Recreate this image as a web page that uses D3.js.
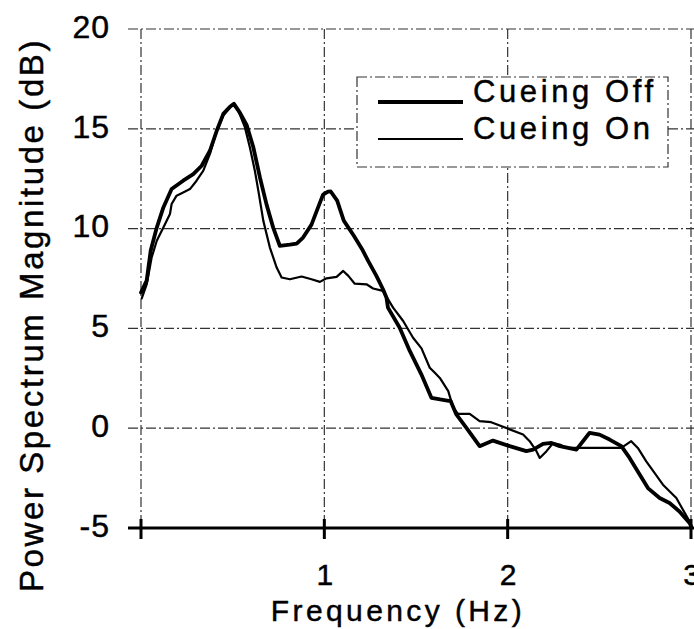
<!DOCTYPE html>
<html>
<head>
<meta charset="utf-8">
<script src="https://cdn.jsdelivr.net/npm/d3@7"></script>
<style>
body { margin: 0; background: #fff; }
text { font-family: "Liberation Sans", Arial, sans-serif; fill: #000; stroke: #000; stroke-width: 0.45px; }
</style>
</head>
<body>
<script>

// Cueing Off (thick line)
var offFreq = [0.0, 0.031, 0.053, 0.086, 0.122, 0.167, 0.23, 0.285, 0.331, 0.376, 0.413, 0.449, 0.485, 0.507,
	0.54, 0.576, 0.612, 0.649, 0.685, 0.721, 0.757, 0.812, 0.849, 0.884, 0.93, 0.966, 0.993, 1.02, 1.035,
	1.07, 1.106, 1.161, 1.206, 1.239, 1.284, 1.32, 1.339, 1.347, 1.411, 1.466, 1.529, 1.584, 1.632, 1.662,
	1.689, 1.72, 1.775, 1.847, 1.92, 2.011, 2.102, 2.139, 2.193, 2.239, 2.284, 2.375, 2.447, 2.501, 2.556,
	2.62, 2.665, 2.72, 2.765, 2.829, 2.883, 2.937, 2.992, 3.0];
var offPower = [6.8, 7.4, 8.9, 10.05, 11.06, 11.98, 12.4, 12.73, 13.15, 13.9, 14.9, 15.75, 16.1, 16.25,
	15.8, 15.2, 14.1, 12.55, 11.2, 10.05, 9.14, 9.2, 9.25, 9.55, 10.2, 11.06, 11.7, 11.85, 11.86,
	11.4, 10.4, 9.64, 8.97, 8.38, 7.63, 6.96, 6.54, 6.04, 5.03, 3.87, 2.7, 1.52, 1.44, 1.4,
	1.36, 0.69, 0.02, -0.9, -0.62, -0.9, -1.15, -1.07, -0.79, -0.74, -0.9, -1.07, -0.23, -0.32, -0.57,
	-0.9, -1.49, -2.32, -3.0, -3.5, -3.75, -4.17, -4.75, -4.9];

// Cueing On (thin line)
var onFreq = [0.004, 0.031, 0.058, 0.086, 0.122, 0.158, 0.167, 0.194, 0.23, 0.267, 0.303, 0.34, 0.376, 0.413,
	0.449, 0.485, 0.503, 0.531, 0.567, 0.594, 0.621, 0.64, 0.667, 0.703, 0.74, 0.767, 0.812, 0.876, 0.93,
	0.976, 1.012, 1.067, 1.103, 1.131, 1.166, 1.23, 1.266, 1.32, 1.375, 1.43, 1.484, 1.53, 1.575, 1.6, 1.63,
	1.676, 1.703, 1.73, 1.793, 1.847, 1.91, 2.0, 2.084, 2.12, 2.157, 2.175, 2.212, 2.248, 2.284, 2.321,
	2.375, 2.62, 2.674, 2.71, 2.756, 2.847, 2.92, 2.992, 3.0];
var onPower = [6.5, 7.2, 8.55, 9.39, 10.05, 10.73, 11.23, 11.65, 11.81, 11.98, 12.4, 12.9, 13.74, 14.9,
	15.66, 16.08, 16.2, 15.9, 15.07, 14.06, 12.9, 11.9, 10.4, 9.05, 8.05, 7.55, 7.46, 7.6, 7.46,
	7.33, 7.51, 7.58, 7.88, 7.63, 7.24, 7.21, 7.0, 6.88, 6.04, 5.37, 4.53, 4.0, 3.03, 2.8, 2.52,
	1.86, 1.02, 0.72, 0.72, 0.35, 0.3, -0.02, -0.32, -0.65, -1.15, -1.49, -1.15, -0.74, -0.82, -0.99,
	-0.99, -0.99, -0.65, -0.99, -1.66, -2.83, -3.5, -4.67, -4.9];

var seriesNames = ["Cueing Off", "Cueing On"];
var seriesWidths = [3.8, 2.2];
var xTicks = [0, 1, 2, 3];
var xTickLabels = ["", "1", "2", "3"];
var yTicks = [-5, 0, 5, 10, 15, 20];

var width = 694, height = 629;
var dashDot = "10,3,2,3";

var svg = d3.select("body")
	.append("svg")
	.attr("width", width)
	.attr("height", height);

var xScale = d3.scaleLinear()
	.domain([0, 3])
	.range([141, 691]);

var yScale = d3.scaleLinear()
	.domain([-5, 20])
	.range([528, 29]);

// grid lines, dash-dot like the scan
svg.append("g")
	.selectAll("line")
	.data(yTicks.filter(function(d) { return d > -5; }))
	.enter().append("line")
	.attr("x1", 128).attr("x2", width)
	.attr("y1", function(d) { return yScale(d); })
	.attr("y2", function(d) { return yScale(d); })
	.attr("stroke", "#333")
	.attr("stroke-width", 1.2)
	.attr("stroke-dasharray", dashDot);

svg.append("g")
	.selectAll("line")
	.data(xTicks)
	.enter().append("line")
	.attr("x1", function(d) { return xScale(d); })
	.attr("x2", function(d) { return xScale(d); })
	.attr("y1", yScale(20))
	.attr("y2", yScale(-5))
	.attr("stroke", "#333")
	.attr("stroke-width", 1.2)
	.attr("stroke-dasharray", dashDot);

// y tick labels (plain hyphen for the minus, as in the original)
var yAxis = svg.append("g")
	.attr("transform", "translate(110,-2)")
	.call(d3.axisLeft(yScale).tickValues(yTicks).tickSize(0).tickPadding(0)
		.tickFormat(function(d) { return String(d); }));
yAxis.select(".domain").remove();
yAxis.selectAll("text")
	.attr("font-size", 32)
	.attr("letter-spacing", 1)
	.attr("font-family", "Liberation Sans, Arial, sans-serif")
	.attr("fill", "#000");

// bottom axis: thick line with ticks crossing it
var xAxis = svg.append("g")
	.attr("transform", "translate(0," + yScale(-5) + ")")
	.call(d3.axisBottom(xScale).tickValues(xTicks).tickFormat(function(d, i) { return xTickLabels[i]; })
		.tickSize(0).tickPadding(36));
xAxis.select(".domain").remove();
xAxis.selectAll("text")
	.attr("font-size", 30)
	.attr("font-family", "Liberation Sans, Arial, sans-serif")
	.attr("fill", "#000");

svg.append("line")
	.attr("x1", 128).attr("x2", width)
	.attr("y1", yScale(-5)).attr("y2", yScale(-5))
	.attr("stroke", "#000")
	.attr("stroke-width", 3);

svg.append("g")
	.selectAll("line")
	.data(xTicks)
	.enter().append("line")
	.attr("x1", function(d) { return xScale(d); })
	.attr("x2", function(d) { return xScale(d); })
	.attr("y1", yScale(-5) - 9)
	.attr("y2", yScale(-5) + 11)
	.attr("stroke", "#000")
	.attr("stroke-width", 3);

// curves
var line = d3.line()
	.x(function(d) { return xScale(d[0]); })
	.y(function(d) { return yScale(d[1]); });

var series = [d3.zip(offFreq, offPower), d3.zip(onFreq, onPower)];

svg.append("g")
	.selectAll("path")
	.data(series)
	.enter().append("path")
	.attr("d", line)
	.attr("fill", "none")
	.attr("stroke", "#000")
	.attr("stroke-linejoin", "round")
	.attr("stroke-linecap", "round")
	.attr("stroke-width", function(d, i) { return seriesWidths[i]; });

// legend
var legend = svg.append("g");
legend.append("rect")
	.attr("x", 357).attr("y", 77)
	.attr("width", 311).attr("height", 90)
	.attr("fill", "#fff")
	.attr("stroke", "#333")
	.attr("stroke-width", 1.2)
	.attr("stroke-dasharray", dashDot);

var rows = legend.selectAll("g.row")
	.data(seriesNames)
	.enter().append("g")
	.attr("class", "row")
	.attr("transform", function(d, i) { return "translate(0," + (102 + i * 37) + ")"; });

rows.append("line")
	.attr("x1", 378).attr("x2", 463)
	.attr("y1", 0).attr("y2", 0)
	.attr("stroke", "#000")
	.attr("stroke-width", function(d, i) { return seriesWidths[i]; });

rows.append("text")
	.attr("x", 473)
	.attr("y", 0)
	.attr("font-size", 31)
	.attr("letter-spacing", 3.6)
	.text(function(d) { return d; });

// axis titles
svg.append("text")
	.attr("text-anchor", "middle")
	.attr("transform", "translate(43,315)rotate(-90)")
	.attr("font-size", 33)
	.attr("letter-spacing", 2.6)
	.text("Power Spectrum Magnitude (dB)");

svg.append("text")
	.attr("text-anchor", "middle")
	.attr("x", 398)
	.attr("y", 621)
	.attr("font-size", 30)
	.attr("letter-spacing", 3.4)
	.text("Frequency (Hz)");

</script>
</body>
</html>
